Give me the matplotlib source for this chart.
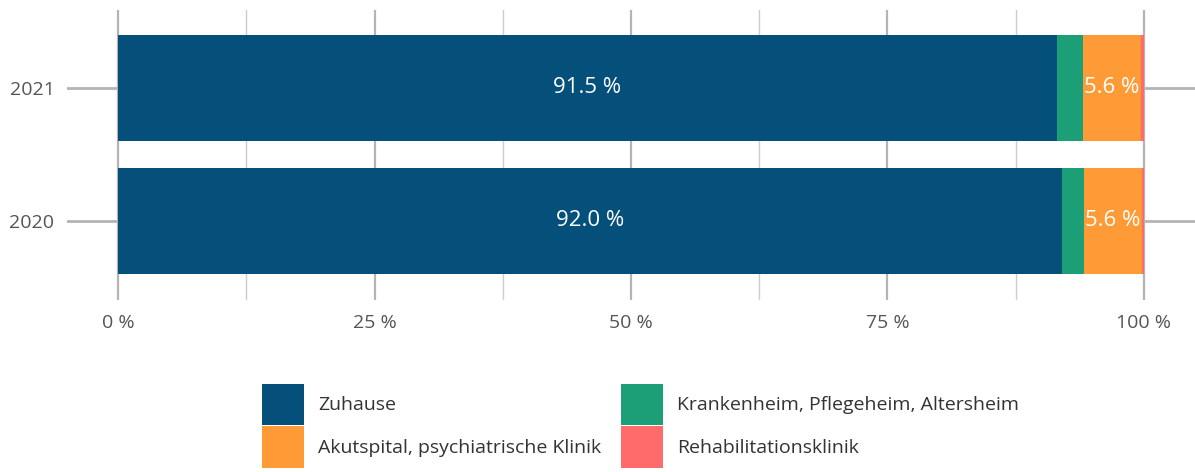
import matplotlib
matplotlib.use('Agg')
import matplotlib.pyplot as plt
from matplotlib.ticker import MultipleLocator, FuncFormatter
import numpy as np

plt.rcParams['font.family'] = ['Open Sans', 'DejaVu Sans']

# Data (percent)
years = ['2020', '2021']
categories = ['Zuhause', 'Krankenheim, Pflegeheim, Altersheim',
              'Akutspital, psychiatrische Klinik', 'Rehabilitationsklinik']
zuhause = [92.0, 91.5]
krankenheim = [2.2, 2.6]
akutspital = [5.6, 5.6]
reha = [0.2, 0.3]
colors = ['#054f7b', '#1c9e77', '#fe9b36', '#ff6b6b']

series = [zuhause, krankenheim, akutspital, reha]

fig = plt.figure(figsize=(11.95, 4.72), dpi=100)
ax = fig.add_axes([67 / 1195, 1 - 300 / 472, 1128 / 1195, 290 / 472])

y = np.arange(len(years))
left = np.zeros(len(years))
bars = []
for vals, col, name in zip(series, colors, categories):
    b = ax.barh(y, vals, left=left, height=0.8, color=col, label=name, zorder=3)
    bars.append(b)
    for yi, (l, v) in enumerate(zip(left, vals)):
        if v >= 5:
            ax.text(l + v / 2, yi, f'{v:.1f} %', ha='center', va='center',
                    color='white', fontsize=16, zorder=4)
    left = left + np.array(vals)

ax.set_xlim(-5, 105)
ax.set_ylim(-0.594, 1.586)
ax.set_yticks(y)
ax.set_yticklabels(years)

ax.xaxis.set_major_locator(MultipleLocator(25))
ax.xaxis.set_minor_locator(MultipleLocator(12.5))
ax.xaxis.set_major_formatter(FuncFormatter(lambda v, p: f'{v:.0f} %'))
ax.tick_params(axis='x', which='both', length=0, pad=10, labelsize=14, labelcolor='#555555')
ax.tick_params(axis='y', length=0, pad=9, labelsize=14, labelcolor='#555555')

ax.grid(axis='x', which='major', color='#b4b4b4', lw=1.6, zorder=0)
ax.grid(axis='x', which='minor', color='#cccccc', lw=1.0, zorder=0)
ax.grid(axis='y', which='major', color='#b4b4b4', lw=2, zorder=0)
for s in ax.spines.values():
    s.set_visible(False)

# legend: row-wise order Zuhause, Krankenheim / Akutspital, Reha
h = [bars[0], bars[2], bars[1], bars[3]]
lab = [categories[0], categories[2], categories[1], categories[3]]
fig.legend(h, lab, ncol=2, loc='upper left',
           bbox_to_anchor=(262 / 1195, 1 - 384 / 472), frameon=False,
           fontsize=14, handlelength=2.15, handleheight=2.9,
           handletextpad=0.75, columnspacing=1.0, labelspacing=0.05,
           borderpad=0, borderaxespad=0, labelcolor='#333333')

fig.savefig('out.png', dpi=100)
